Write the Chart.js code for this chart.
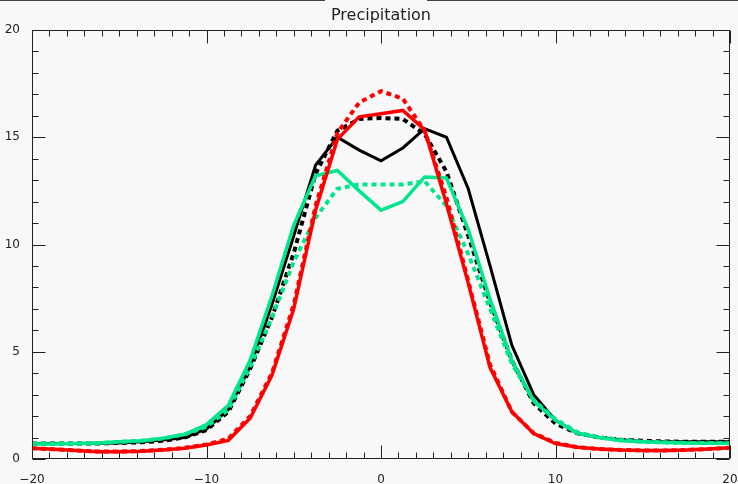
<!DOCTYPE html>
<html><head><meta charset="utf-8">
<script src="https://cdn.jsdelivr.net/npm/chart.js@4"></script>
<style>html,body{margin:0;padding:0;background:#f8f8f8;}canvas{display:block}</style>
</head><body>
<canvas id="c" width="738" height="484"></canvas>
<script>
// latitude grid
const latitudes = [-20,-18.75,-17.5,-16.25,-15,-13.75,-12.5,-11.25,-10,-8.75,-7.5,-6.25,-5,-3.75,-2.5,-1.25,0,1.25,2.5,3.75,5,6.25,7.5,8.75,10,11.25,12.5,13.75,15,16.25,17.5,18.75,20];
const blackSolid  = [0.72,0.72,0.72,0.73,0.75,0.8,0.88,1.0,1.4,2.3,4.3,7.2,10.4,13.7,15.0,14.4,13.9,14.5,15.4,15.0,12.6,9.0,5.3,3.0,1.8,1.2,1.0,0.9,0.82,0.8,0.8,0.8,0.8];
const blackDashed = [0.72,0.72,0.72,0.72,0.75,0.78,0.85,1.0,1.35,2.2,4.2,6.6,9.6,13.3,15.3,15.85,15.9,15.85,15.15,13.4,10.4,7.3,4.6,2.6,1.65,1.2,1.0,0.9,0.85,0.82,0.8,0.8,0.8];
const greenSolid  = [0.7,0.7,0.72,0.75,0.8,0.85,0.97,1.15,1.6,2.5,4.6,7.6,10.9,13.2,13.45,12.5,11.6,12.0,13.15,13.1,10.7,7.45,4.6,2.7,1.8,1.2,1.0,0.85,0.8,0.77,0.75,0.73,0.73];
const greenDashed = [0.72,0.72,0.72,0.74,0.8,0.85,0.95,1.15,1.5,2.3,4.3,6.6,9.2,11.25,12.6,12.8,12.8,12.8,12.95,11.8,9.55,7.0,4.44,2.75,1.85,1.25,1.0,0.9,0.8,0.78,0.75,0.75,0.75];
const redSolid    = [0.5,0.45,0.4,0.34,0.34,0.36,0.42,0.5,0.65,0.87,1.9,3.9,7.0,11.6,14.9,15.95,16.1,16.25,15.35,11.9,8.2,4.26,2.2,1.19,0.72,0.55,0.47,0.42,0.4,0.4,0.42,0.47,0.52];
const redDashed   = [0.5,0.45,0.4,0.35,0.35,0.37,0.43,0.52,0.68,0.95,2.0,4.0,7.2,11.8,15.2,16.62,17.15,16.8,15.3,12.2,8.3,4.4,2.2,1.2,0.75,0.55,0.47,0.42,0.4,0.4,0.42,0.47,0.52];
const xTicks = [-20,-10,0,10,20];
const yTicks = [0,5,10,15,20];
const titleText = 'Precipitation';

const GREEN = '#00e68c';
function pts(vals){ return latitudes.map((x,i)=>({x:x,y:vals[i]})); }
function ds(vals,color,dashed,order,w){
  return {data:pts(vals),borderColor:color,borderWidth:w,borderDash:dashed?[5,4]:[],
    pointRadius:0,tension:0,fill:false,order:order,borderCapStyle:'butt',borderJoinStyle:'miter'};
}

const decor = {
  id:'decor',
  beforeDraw(chart){
    const ctx=chart.ctx;
    ctx.save();
    ctx.fillStyle='#f8f8f8';
    ctx.fillRect(0,0,chart.width,chart.height);
    ctx.fillStyle='#444';
    ctx.fillRect(0,0,325,1);
    ctx.fillRect(427,0,311,1);
    ctx.restore();
  },
  afterDatasetsDraw(chart){
    const {ctx,chartArea:a,scales}=chart;
    const xs=scales.x, ys=scales.y;
    ctx.save();
    ctx.strokeStyle='#222'; ctx.lineWidth=1;
    const L=Math.round(a.left)+0.5, R=Math.round(a.right)-0.5, T=Math.round(a.top)+0.5, B=Math.round(a.bottom)-0.5;
    ctx.beginPath();
    ctx.rect(L,T,R-L,B-T);
    for(let v=-20; v<=20; v++){
      const p=Math.round(xs.getPixelForValue(v))+0.5;
      const len=(v%10===0)?13:6;
      ctx.moveTo(p,B); ctx.lineTo(p,B-len);
      ctx.moveTo(p,T); ctx.lineTo(p,T+len);
    }
    for(let v=0; v<=20; v++){
      const p=Math.round(ys.getPixelForValue(v))+0.5;
      const len=(v%5===0)?13:6;
      ctx.moveTo(L,p); ctx.lineTo(L+len,p);
      ctx.moveTo(R,p); ctx.lineTo(R-len,p);
    }
    ctx.stroke();
    ctx.fillStyle='#222';
    ctx.font='16px "DejaVu Sans", sans-serif';
    ctx.textAlign='center'; ctx.textBaseline='middle';
    ctx.fillText(titleText,(a.left+a.right)/2,16);
    ctx.restore();
  }
};

new Chart(document.getElementById('c'),{
  type:'line',
  data:{datasets:[
    ds(blackSolid,'#000000',false,6,3),
    ds(blackDashed,'#000000',true,5,4),
    ds(greenSolid,GREEN,false,4,3.5),
    ds(greenDashed,GREEN,true,3,4),
    ds(redSolid,'#ff0000',false,2,3.5),
    ds(redDashed,'#ff0000',true,1,4)
  ]},
  options:{
    responsive:false, animation:false, devicePixelRatio:1,
    layout:{padding:{top:30,right:8,left:0,bottom:0}},
    plugins:{legend:{display:false},tooltip:{enabled:false},title:{display:false}},
    scales:{
      x:{type:'linear',min:-20,max:20,
        afterFit(s){s.height=25;s.paddingLeft=0;s.paddingRight=0;},
        afterBuildTicks(s){s.ticks=xTicks.map(v=>({value:v}));},
        grid:{display:false},border:{display:false},
        ticks:{padding:6,color:'#222',font:{family:'DejaVu Sans',size:12},maxRotation:0,autoSkip:false,
          callback:v=>String(v).replace('-','\u2212')}},
      y:{type:'linear',min:0,max:20,
        afterFit(s){s.width=32;s.paddingTop=0;s.paddingBottom=0;},
        afterBuildTicks(s){s.ticks=yTicks.map(v=>({value:v}));},
        grid:{display:false},border:{display:false},
        ticks:{padding:4,color:'#222',font:{family:'DejaVu Sans',size:12},autoSkip:false}}
    }
  },
  plugins:[decor]
});
</script>
</body></html>
